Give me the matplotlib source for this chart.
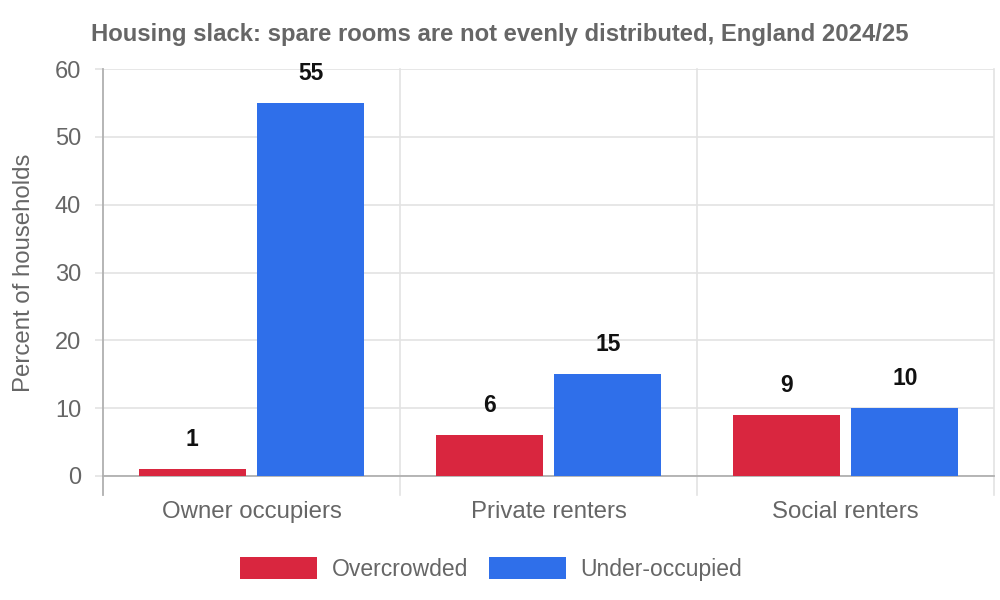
import matplotlib
matplotlib.use("Agg")
import matplotlib.pyplot as plt
import matplotlib.transforms as mtransforms
import numpy as np

categories = ["Owner occupiers", "Private renters", "Social renters"]
series_names = ["Overcrowded", "Under-occupied"]
overcrowded = [1, 6, 9]
under_occupied = [55, 15, 10]
y_ticks = [0, 10, 20, 30, 40, 50, 60]
title = "Housing slack: spare rooms are not evenly distributed, England 2024/25"
y_label = "Percent of households"

colors = ["#d9263f", "#2f6fea"]
grid_c = "#e3e3e3"
axis_c = "#b0b0b0"
text_c = "#666666"

plt.rcParams["font.family"] = ["Liberation Sans", "DejaVu Sans"]

fig = plt.figure(figsize=(10, 6), dpi=100)
ax = fig.add_axes([0.103, 1 - 476 / 600, 0.891, (476 - 69) / 600])

x = np.arange(len(categories))
bw = 0.36
offs = [-0.2, 0.2]
for vals, off, c, name in zip([overcrowded, under_occupied], offs, colors, series_names):
    bars = ax.bar(x + off, vals, width=bw, color=c, label=name, zorder=3)
    for b, v in zip(bars, vals):
        ax.annotate(str(v), (b.get_x() + b.get_width() / 2, v), xytext=(0, 21.3),
                    textcoords="offset points", ha="center", va="center",
                    fontsize=16.5, fontweight="bold", color="#111111")

ax.set_xlim(-0.5, 2.5)
ax.set_ylim(0, 60)
ax.set_yticks(y_ticks)
ax.set_xticks(x)
ax.set_xticklabels(categories)
ax.tick_params(axis="x", length=0, pad=18, labelsize=17.3, labelcolor=text_c)
ax.tick_params(axis="y", length=5.8, color=grid_c, width=1.2, pad=10, labelsize=17, labelcolor=text_c)
ax.yaxis.grid(True, color=grid_c, linewidth=1.2, zorder=0)
ax.set_axisbelow(True)

for s in ["top", "right"]:
    ax.spines[s].set_visible(False)
ax.spines["left"].set_color(axis_c)
ax.spines["bottom"].set_color(axis_c)
ax.spines["left"].set_linewidth(1.3)
ax.spines["bottom"].set_linewidth(1.3)

# category boundary lines extending below axis
trans = mtransforms.blended_transform_factory(ax.transData, ax.transAxes)
ext = -19 / 407
for b in [0.5, 1.5, 2.5]:
    ax.plot([b, b], [ext, 1], transform=trans, color=grid_c, lw=1.2, clip_on=False, zorder=0)
ax.plot([-0.5, -0.5], [ext, 0], transform=trans, color=axis_c, lw=1.3, clip_on=False, zorder=2)

ax.set_ylabel(y_label, fontsize=17.3, color=text_c, labelpad=14)
fig.text(0.5, 1 - 35 / 600, title, ha="center", va="center", fontsize=17.2,
         fontweight="bold", color=text_c)

fs = 16.5
fpx = fs * 100 / 72
leg = fig.legend(loc="center", bbox_to_anchor=(0.491, 1 - 569 / 600), ncol=2, frameon=False,
                 fontsize=fs, handlelength=77 / fpx, handleheight=24 / fpx,
                 handletextpad=14 / fpx, columnspacing=21 / fpx, labelcolor=text_c)

fig.savefig("out.png", dpi=100, facecolor="white")
